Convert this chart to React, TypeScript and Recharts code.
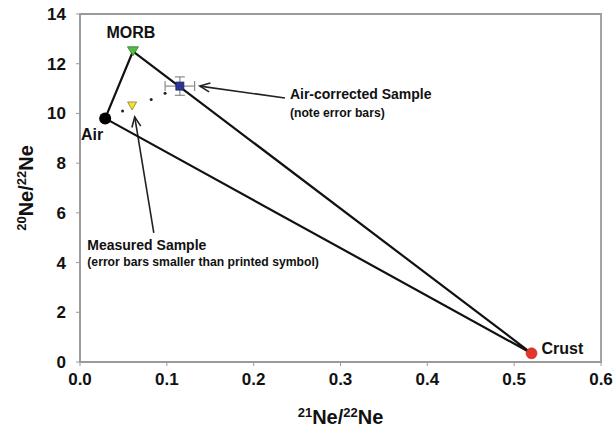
import {
  ComposedChart,
  Scatter,
  XAxis,
  YAxis,
  ErrorBar,
  ReferenceLine,
  ReferenceArea,
} from "recharts";

const FONT = '"Liberation Sans", Arial, Helvetica, sans-serif';
const AXIS = "#9a9a9a";

const xTicks = [0, 0.1, 0.2, 0.3, 0.4, 0.5, 0.6];
const yTicks = [0, 2, 4, 6, 8, 10, 12, 14];

// end-members
const morb = [{ x: 0.061, y: 12.5 }];
const air = [{ x: 0.029, y: 9.8 }];
const crust = [{ x: 0.52, y: 0.35 }];

// samples
const measuredSample = [{ x: 0.06, y: 10.3 }];
const airCorrectedSample = [{ x: 0.115, y: 11.1, ex: 0.017, ey: 0.37 }];
const mixingDots = [
  { x: 0.049, y: 10.1 },
  { x: 0.082, y: 10.56 },
  { x: 0.098, y: 10.81 },
];

const triangle = [morb[0], air[0], crust[0], morb[0]];

// annotation arrows: [tail, tip]
const airCorrectedArrow = [
  { x: 0.236, y: 10.62 },
  { x: 0.138, y: 11.1 },
];
const measuredArrow = [
  { x: 0.085, y: 5.19 },
  { x: 0.063, y: 9.86 },
];

const airCorrectedText = ["Air-corrected Sample", "(note error bars)"];
const measuredText = ["Measured Sample", "(error bars smaller than printed symbol)"];

const labelStyle = { fontFamily: FONT, fontWeight: 700, fill: "#111" };

const downTriangle =
  (fill: string, w: number, h: number, stroke: string, label?: string) =>
  (p: any) => {
    const { cx, cy } = p;
    return (
      <g>
        <path
          d={`M${cx - w / 2},${cy - h / 2}L${cx + w / 2},${cy - h / 2}L${cx},${cy + h / 2}Z`}
          fill={fill}
          stroke={stroke}
          strokeWidth={0.8}
        />
        {label && (
          <text x={cx - 2} y={cy - 13} textAnchor="middle" fontSize={16} {...labelStyle}>
            {label}
          </text>
        )}
      </g>
    );
  };

const AirShape = (p: any) => (
  <g>
    <circle cx={p.cx} cy={p.cy} r={6} fill="#000" />
    <text x={p.cx - 2} y={p.cy + 21.5} textAnchor="end" fontSize={16} {...labelStyle}>
      Air
    </text>
  </g>
);

const CrustShape = (p: any) => (
  <g>
    <circle cx={p.cx} cy={p.cy} r={5.5} fill="#e3362a" stroke="#b8261c" strokeWidth={0.6} />
    <text x={p.cx + 10} y={p.cy + 1} fontSize={16} {...labelStyle}>
      Crust
    </text>
  </g>
);

const SquareShape = (p: any) => (
  <rect x={p.cx - 4} y={p.cy - 4} width={8} height={8} fill="#2b3592" stroke="#1a1f5c" strokeWidth={0.8} />
);

const DotShape = (p: any) => <circle cx={p.cx} cy={p.cy} r={1.5} fill="#222" />;

const NoShape = () => <g />;

const arrowShape =
  (lines: string[], tx: number, ty: number, subDy: number) => (p: any) => {
    const { x1, y1, x2, y2 } = p;
    const a = Math.atan2(y2 - y1, x2 - x1);
    const L = 11;
    const s = 0.42;
    const h1 = [x2 - L * Math.cos(a - s), y2 - L * Math.sin(a - s)];
    const h2 = [x2 - L * Math.cos(a + s), y2 - L * Math.sin(a + s)];
    return (
      <g>
        <line x1={x1} y1={y1} x2={x2} y2={y2} stroke="#222" strokeWidth={1.6} />
        <polyline
          points={`${h1[0]},${h1[1]} ${x2},${y2} ${h2[0]},${h2[1]}`}
          fill="none"
          stroke="#222"
          strokeWidth={1.6}
        />
        <text x={x1 + tx} y={y1 + ty} fontSize={14} {...labelStyle}>
          {lines[0]}
        </text>
        <text x={x1 + tx} y={y1 + ty + subDy} fontSize={12.2} {...labelStyle}>
          {lines[1]}
        </text>
      </g>
    );
  };

const XTitle = (props: any) => {
  const { viewBox } = props;
  const cx = viewBox.x + viewBox.width / 2;
  return (
    <text x={cx} y={424} textAnchor="middle" fontSize={20} {...labelStyle}>
      <tspan fontSize={13} dy={-7}>21</tspan>
      <tspan dy={7}>Ne/</tspan>
      <tspan fontSize={13} dy={-7}>22</tspan>
      <tspan dy={7}>Ne</tspan>
    </text>
  );
};

const YTitle = (props: any) => {
  const { viewBox } = props;
  const cy = viewBox.y + viewBox.height / 2;
  const x = 33;
  return (
    <text x={x} y={cy} textAnchor="middle" fontSize={20} transform={`rotate(-90 ${x} ${cy})`} {...labelStyle}>
      <tspan fontSize={13} dy={-7}>20</tspan>
      <tspan dy={7}>Ne/</tspan>
      <tspan fontSize={13} dy={-7}>22</tspan>
      <tspan dy={7}>Ne</tspan>
    </text>
  );
};

const tickStyle = { fontSize: 17, fontWeight: 700, fill: "#111", fontFamily: FONT };

const App = () => {
  return (
    <div style={{ position: "absolute", left: 0, top: 0, width: 616, height: 429, background: "#fff" }}>
      <ComposedChart width={616} height={429} margin={{ top: 14, right: 15, bottom: 0, left: 0 }}>
        <XAxis
          type="number"
          dataKey="x"
          domain={[0, 0.6]}
          ticks={xTicks}
          tickFormatter={(v: number) => v.toFixed(1)}
          tick={tickStyle}
          tickSize={4}
          tickMargin={7}
          height={67}
          stroke={AXIS}
          axisLine={{ stroke: AXIS, strokeWidth: 1.5 }}
          label={<XTitle />}
        />
        <YAxis
          type="number"
          dataKey="y"
          domain={[0, 14]}
          ticks={yTicks}
          tick={tickStyle}
          tickSize={4}
          tickMargin={10}
          width={80}
          stroke={AXIS}
          axisLine={{ stroke: AXIS, strokeWidth: 1.5 }}
          label={<YTitle />}
        />
        <ReferenceArea x1={0} x2={0.6} y1={0} y2={14} fill="none" stroke={AXIS} strokeWidth={1.8} fillOpacity={0} />
        <Scatter
          data={triangle}
          line={{ stroke: "#111", strokeWidth: 2.2, strokeLinejoin: "round" }}
          shape={NoShape}
          isAnimationActive={false}
        />
        <Scatter data={mixingDots} shape={DotShape} isAnimationActive={false} />
        <ReferenceLine
          segment={airCorrectedArrow}
          shape={arrowShape(airCorrectedText, 5, 1, 18)}
          ifOverflow="visible"
        />
        <ReferenceLine
          segment={measuredArrow}
          shape={arrowShape(measuredText, -66.5, 17, 16.5)}
          ifOverflow="visible"
        />
        <Scatter data={airCorrectedSample} shape={SquareShape} isAnimationActive={false}>
          <ErrorBar dataKey="ex" direction="x" width={5} stroke="#8a8a8a" strokeWidth={1.2} />
          <ErrorBar dataKey="ey" direction="y" width={5} stroke="#8a8a8a" strokeWidth={1.2} />
        </Scatter>
        <Scatter data={air} shape={AirShape} isAnimationActive={false} />
        <Scatter data={crust} shape={CrustShape} isAnimationActive={false} />
        <Scatter
          data={measuredSample}
          shape={downTriangle("#f3e13a", 9, 8, "#8a7f20")}
          isAnimationActive={false}
        />
        <Scatter
          data={morb}
          shape={downTriangle("#52bd45", 11, 9, "#2f7d27", "MORB")}
          isAnimationActive={false}
        />
      </ComposedChart>
    </div>
  );
};

export default App;
